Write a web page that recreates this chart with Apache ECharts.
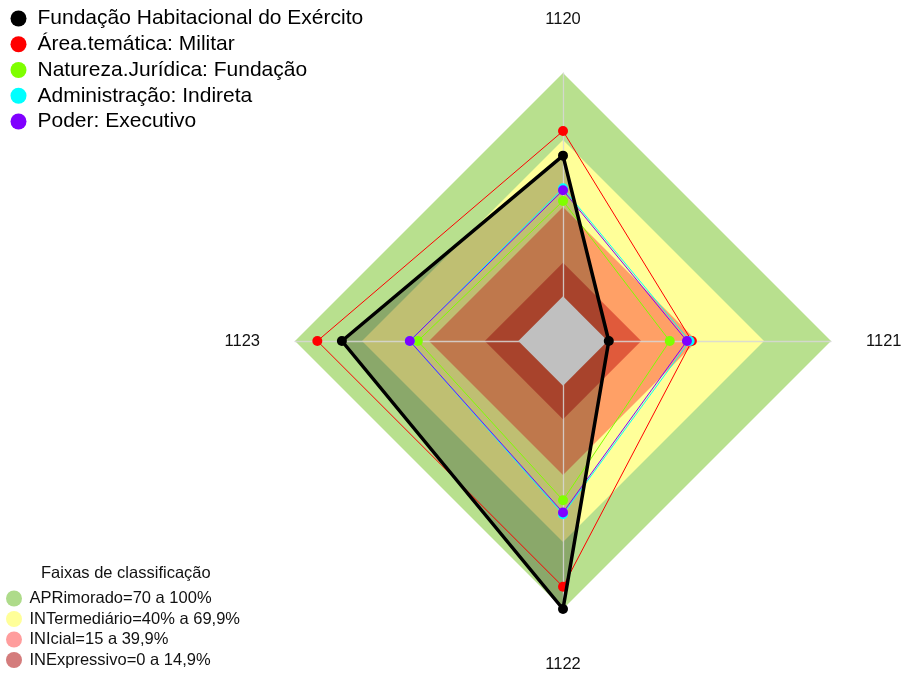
<!DOCTYPE html>
<html>
<head>
<meta charset="utf-8">
<script src="https://cdn.jsdelivr.net/npm/echarts@6/dist/echarts.min.js"></script>
<style>
html,body{margin:0;padding:0;background:#fff;}
#chart{width:905px;height:673px;}
</style>
</head>
<body>
<div id="chart"></div>
<script>
// Axes (clockwise from top, as in the reference)
const axes = ['1120', '1121', '1122', '1123'];
const axisMin = -20;
const axisMax = 100;

// Series values, in the order of `axes`
const seriesNames = [
  'Fundação Habitacional do Exército',
  'Área.temática: Militar',
  'Natureza.Jurídica: Fundação',
  'Administração: Indireta',
  'Poder: Executivo'
];
const fundacao   = [63, 0.5, 100, 79];
const militar    = [74, 37.7, 90, 90];
const natureza   = [42.7, 27.8, 51.3, 45];
const indireta   = [48.4, 36.7, 57.6, 48.6];
const executivo  = [47.5, 35.5, 56.8, 48.6];
const seriesValues = [fundacao, militar, natureza, indireta, executivo];
const seriesColors = ['#000000', '#ff0000', '#7fff00', '#00ffff', '#8000ff'];

// Classification bands
const bandTitle = 'Faixas de classificação';
const bandNames = [
  'APRimorado=70 a 100%',
  'INTermediário=40% a 69,9%',
  'INIcial=15 a 39,9%',
  'INExpressivo=0 a 14,9%'
];
const bandUpper = [100, 70, 40, 15];
const bandFill = ['#b8e08e', '#ffff99', '#ffa066', '#e05a3b'];
const bandLegendColor = ['#aedb8a', '#ffff99', '#ff9d9d', '#d47c7c'];
const centerValue = 0;

// ECharts places radar indicators counter-clockwise; reorder so 1121 is on the right.
const order = [0, 3, 2, 1];
const reorder = arr => order.map(i => arr[i]);
const fill4 = v => axes.map(() => v);
const FONT = 'Liberation Sans, Arial, sans-serif';

const series = [];
// Bands
bandNames.forEach((n, i) => {
  series.push({
    type: 'radar', z: 1, silent: true, symbol: 'none',
    data: [{
      name: n, value: reorder(fill4(bandUpper[i])),
      itemStyle: { color: bandLegendColor[i] },
      lineStyle: { width: 0, opacity: 0 },
      areaStyle: { color: bandFill[i], opacity: 1 }
    }]
  });
});
// Fill of the main entity
series.push({
  type: 'radar', z: 2, silent: true, symbol: 'none',
  data: [{
    name: 'fill', value: reorder(fundacao),
    lineStyle: { width: 0, opacity: 0 },
    areaStyle: { color: 'rgba(0,0,0,0.25)', opacity: 1 }
  }]
});
// Gray centre (value 0)
series.push({
  type: 'radar', z: 4, silent: true, symbol: 'none',
  data: [{
    name: 'center', value: reorder(fill4(centerValue)),
    lineStyle: { width: 0, opacity: 0 },
    areaStyle: { color: '#c0c0c0', opacity: 1 }
  }]
});
// Comparison series (thin) then main series (thick)
for (let k = 1; k < seriesNames.length; k++) {
  series.push({
    type: 'radar', z: 5, silent: true, symbol: 'circle', symbolSize: 10,
    data: [{
      name: seriesNames[k], value: reorder(seriesValues[k]),
      itemStyle: { color: seriesColors[k] },
      lineStyle: { color: seriesColors[k], width: 1 }
    }]
  });
}
series.push({
  type: 'radar', z: 6, silent: true, symbol: 'circle', symbolSize: 10,
  data: [{
    name: seriesNames[0], value: reorder(fundacao),
    itemStyle: { color: seriesColors[0] },
    lineStyle: { color: seriesColors[0], width: 3.5 }
  }]
});

const chart = echarts.init(document.getElementById('chart'), null, { renderer: 'canvas' });
chart.setOption({
  animation: false,
  backgroundColor: '#ffffff',
  textStyle: { fontFamily: FONT },
  title: {
    text: bandTitle, left: 36, top: 560,
    textStyle: { fontSize: 16.5, fontWeight: 'normal', color: '#111', fontFamily: FONT }
  },
  legend: [
    {
      orient: 'vertical', left: 10.5, top: 8, padding: 0,
      itemWidth: 28, itemHeight: 16, itemGap: 4.75, icon: 'circle',
      selectedMode: false,
      textStyle: { fontSize: 21, color: '#000', fontFamily: FONT },
      data: seriesNames.map((n, i) => ({ name: n, icon: 'circle', itemStyle: { color: seriesColors[i], borderWidth: 0 } }))
    },
    {
      orient: 'vertical', left: 6, top: 590, padding: 0,
      itemWidth: 21, itemHeight: 16, itemGap: 3.5, icon: 'circle',
      selectedMode: false,
      textStyle: { fontSize: 16.5, color: '#111', fontFamily: FONT },
      data: bandNames.map((n, i) => ({ name: n, icon: 'circle', itemStyle: { color: bandLegendColor[i], borderWidth: 0 } }))
    }
  ],
  radar: {
    z: 3,
    center: [563, 341],
    radius: 268,
    startAngle: 90,
    shape: 'polygon',
    splitNumber: 6,
    indicator: reorder(axes).map(a => ({ name: a, min: axisMin, max: axisMax })),
    nameGap: 35,
    axisName: {
      color: '#111', fontSize: 16.5, fontFamily: FONT,
      formatter: n => n === '1120' ? '{t|' + n + '}' : (n === '1122' ? '{b|' + n + '}' : '{h|' + n + '}'),
      rich: {
        t: { padding: [0, 0, 10, 0], fontSize: 16.5, color: '#111', fontFamily: FONT },
        b: { padding: [12, 0, 0, 0], fontSize: 16.5, color: '#111', fontFamily: FONT },
        h: { fontSize: 16.5, color: '#111', fontFamily: FONT }
      }
    },
    axisLine: { show: true, lineStyle: { color: 'rgba(215,215,215,0.85)', width: 1.3 } },
    splitLine: { show: false },
    splitArea: { show: false },
    axisTick: { show: false },
    axisLabel: { show: false }
  },
  series: series
});
</script>
</body>
</html>
